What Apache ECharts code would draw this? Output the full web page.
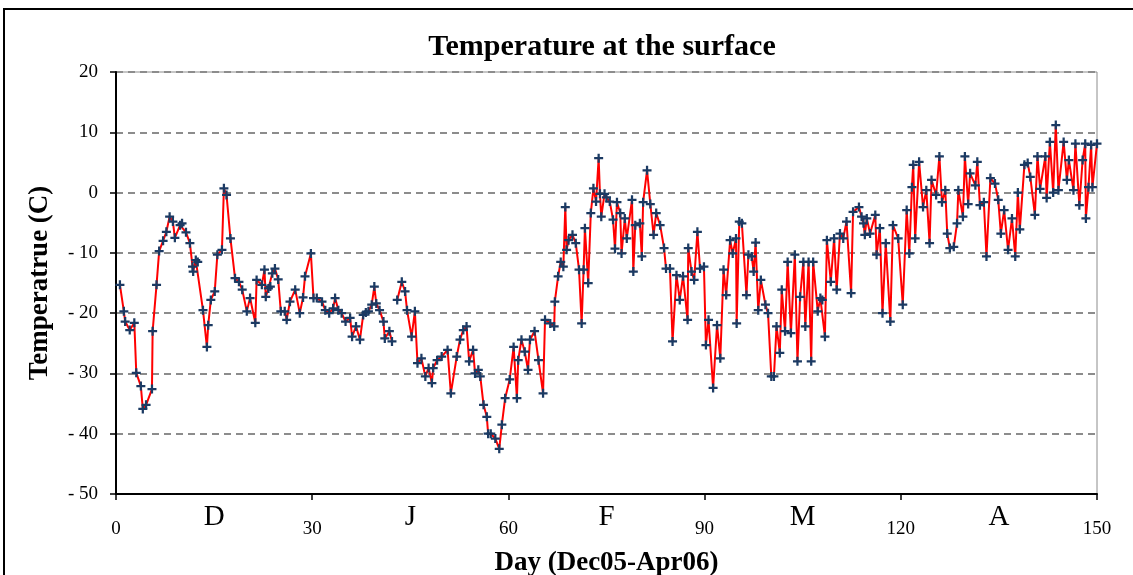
<!DOCTYPE html>
<html>
<head>
<meta charset="utf-8">
<script src="https://cdn.jsdelivr.net/npm/echarts@6/dist/echarts.min.js"></script>
<style>
html,body{margin:0;padding:0;background:#fff;}
#chart{width:1133px;height:575px;}
</style>
</head>
<body>
<div id="chart"></div>
<script>
// Readings: [day, temperature °C]
const decReadings = [[0.6,-15.3],[1.2,-19.7],[1.4,-21.4],[2.1,-22.8],[2.8,-21.6],[3.1,-29.9],[3.8,-32.1],[4.1,-35.9],[4.6,-35.2],[5.5,-32.6],[5.6,-23],[6.2,-15.3],[6.6,-9.7],[7.2,-8],[7.7,-6.5],[8.2,-4],[8.7,-4.8],[9.0,-7.5],[9.8,-5.4],[10.1,-5.1],[10.7,-6.6],[11.3,-8.4],[11.7,-12.3],[11.8,-13.1],[12.2,-11.2],[12.5,-11.5],[13.3,-19.5],[13.9,-25.6],[14.1,-22],[14.5,-17.8],[15.1,-16.4],[15.5,-10.3],[16.2,-9.5],[16.5,0.7],[16.9,-0.4],[17.5,-7.6],[18.2,-14.2],[18.8,-14.8],[19.3,-16.1],[20.0,-19.7],[20.5,-17.5],[21.3,-21.6],[21.5,-14.5],[22.3,-15.3],[22.7,-12.8],[22.9,-17.3],[23.3,-15.9],[23.6,-15.6],[23.9,-13.4],[24.3,-12.6],[24.8,-14.4],[25.2,-19.7],[25.8,-19.7],[26.1,-21.1],[26.6,-18.1],[27.4,-16.1],[28.1,-20],[28.6,-17.4],[28.9,-13.9],[29.8,-10.1]];
const janReadings = [[30.2,-17.5],[30.7,-17.5],[31.5,-18.1],[32.0,-19.5],[32.6,-20],[33.2,-19.2],[33.5,-17.5],[34.0,-19.5],[34.5,-20],[35.1,-21.4],[35.8,-20.8],[36.1,-23.9],[36.7,-22.2],[37.3,-24.4],[37.8,-20.3],[38.2,-19.9],[38.6,-19.7],[39.1,-18.6],[39.5,-15.6],[39.8,-18.4],[40.3,-19.5],[40.9,-21.4],[41.1,-24.2],[41.8,-23],[42.2,-24.7],[42.6,'-'],[43.0,-17.8],[43.7,-14.8],[44.2,-16.4],[44.5,-19.5],[45.2,-23.9],[45.7,-19.7],[46.1,-28.3],[46.7,-27.5],[47.3,-30.5],[47.8,-29.1],[48.3,-31.6],[48.5,-29.1],[49.1,-27.8],[49.8,-27.2],[50.7,-26.1],[51.2,-33.3],[52.1,-27.2],[52.6,-24.4],[53.1,-22.8],[53.6,-22.2],[54.0,-28],[54.6,-26.1],[54.9,-30],[55.4,-29.4],[55.7,-30.5],[56.2,-35.2],[56.7,-37.2],[56.9,-40],[57.3,-40],[58.0,-40.8],[58.6,-42.5],[59.0,-38.5],[59.5,-34.1]];
const febReadings = [[60.2,-31],[60.8,-25.6],[61.3,-34.1],[61.5,-27.8],[62.0,-24.4],[62.5,-26.4],[63.0,-29.4],[63.3,-24.4],[64.0,-23],[64.6,-27.8],[65.3,-33.3],[65.6,-21.1],[66.4,-21.7],[67.0,-22.2],[67.1,-18.1],[67.6,-13.9],[68.0,-11.5],[68.4,-12.3],[68.7,-2.4],[68.9,-9.5],[69.2,-7.9],[69.8,-7],[70.3,-8.4],[70.8,-12.8],[71.2,-21.7],[71.5,-12.8],[71.7,-5.9],[72.2,-15],[72.6,-3.4],[73.0,0.7],[73.4,-1.5],[73.8,5.7],[74.0,-0.2],[74.2,-4],[74.7,-0.2],[75.0,-0.8],[75.5,-1.5],[76.0,-4.5],[76.3,-9.3],[76.6,-1.6],[77.1,-3.4],[77.3,-10.1],[77.8,-4.3],[78.1,-7.6],[78.9,-1.2],[79.1,-13.1],[79.4,-5.4],[80.1,-5.1],[80.4,-10.6],[80.6,-1.6],[81.2,3.7],[81.7,-1.9],[82.2,-7],[82.6,-3.4],[83.2,-5.4],[83.8,-9.2],[84.1,-12.6],[84.7,-12.6],[85.1,-24.7],[85.7,-13.7],[86.2,-17.8],[86.7,-13.9],[87.4,-21.1],[87.5,-9.2],[88.0,-13.1],[88.4,-14.5],[88.9,-6.5],[89.3,-12.6],[89.9,-12.3]];
const marReadings = [[90.2,-25.3],[90.6,-21.1],[91.3,-32.4],[91.9,-22],[92.4,-27.5],[92.9,-12.8],[93.3,-17],[93.9,-7.9],[94.3,-10.1],[94.8,-7.6],[94.9,-21.7],[95.3,-4.8],[95.7,-5.1],[96.4,-17],[96.7,-10.3],[97.2,-10.6],[97.5,-13.1],[97.8,-8.3],[98.2,-19.5],[98.6,-14.5],[99.3,-18.6],[99.7,-20],[100.2,-30.5],[100.6,-30.5],[101.0,-22.2],[101.5,-26.6],[101.8,-16.1],[102.3,-23],[102.7,-11.5],[103.2,-23.3],[103.8,-10.3],[104.2,-28],[104.6,-17.3],[105.1,-11.5],[105.4,-22.2],[105.9,-11.5],[106.3,-28],[106.6,-11.5],[107.3,-19.7],[107.7,-17.5],[108.0,-17.8],[108.4,-23.9],[108.7,-7.9],[109.3,-14.8],[109.8,-7.6],[110.2,-16.1],[110.7,-6.8],[111.2,-7.6],[111.7,-4.8],[112.4,-16.7],[112.7,-3.2],[113.6,-2.4],[114.0,-4],[114.3,-5.1],[114.5,-7],[114.8,-4.3],[115.3,-6.8],[116.1,-3.7],[116.3,-10.3],[116.8,-5.9],[117.2,-20],[117.7,-8.4],[118.4,-21.4],[118.8,-5.4],[119.6,-7.6]];
const aprReadings = [[120.3,-18.6],[120.9,-2.9],[121.3,-10.1],[121.7,0.9],[121.9,4.6],[122.2,-7.6],[122.8,5.1],[123.4,-2.4],[123.9,0.4],[124.4,-8.4],[124.7,2.1],[125.4,-0.4],[125.9,6],[126.3,-1.6],[126.8,0.4],[127.1,-6.8],[127.5,-9.2],[128.1,-9],[128.6,-5.1],[128.8,0.4],[129.5,-4],[129.8,6],[130.3,-1.9],[130.6,3.2],[131.4,1.2],[131.7,5.1],[132.1,-2.1],[132.7,-1.6],[133.1,-10.6],[133.7,2.4],[134.4,1.5],[134.9,-1.2],[135.3,-6.8],[135.8,-2.9],[136.4,-9.5],[137.0,-4.3],[137.5,-10.6],[137.9,0],[138.2,-6.1],[138.9,4.6],[139.4,4.9],[139.8,2.6],[140.5,-3.7],[140.9,6],[141.3,0.6],[142.1,6],[142.3,-0.9],[142.8,8.4],[143.3,0],[143.7,11.2],[144.1,0.4],[144.9,8.4],[145.4,2.1],[145.7,5.4],[146.4,0.4],[146.7,8.1],[147.3,-2.1],[147.8,5.4],[148.2,8.1],[148.3,-4.3],[148.7,0.9],[149.1,7.9],[149.3,0.9],[150.0,8.1]];

const dayTicks = [0, 30, 60, 90, 120, 150];
const monthLabels = {15: 'D', 45: 'J', 75: 'F', 105: 'M', 135: 'A'};
const tempTicks = [20, 10, 0, -10, -20, -30, -40, -50];

const readings = decReadings.concat(janReadings, febReadings, marReadings, aprReadings);

const chart = echarts.init(document.getElementById('chart'), null, {renderer: 'canvas'});
const serif = '"Liberation Serif", "Times New Roman", serif';
const plusPath = 'path://M-1,-4 L1,-4 L1,-1 L4,-1 L4,1 L1,1 L1,4 L-1,4 L-1,1 L-4,1 L-4,-1 L-1,-1 Z';

chart.setOption({
  animation: false,
  backgroundColor: '#ffffff',
  title: {
    text: 'Temperature at the surface',
    left: 597, top: 27, textAlign: 'center',
    textStyle: {fontFamily: serif, fontWeight: 'bold', fontSize: 30, color: '#000'}
  },
  graphic: [{
    type: 'rect', silent: true, z: -1,
    shape: {x: 4, y: 9, width: 1300, height: 700},
    style: {fill: 'none', stroke: '#000', lineWidth: 2}
  }],
  grid: {
    left: 116, right: 36, top: 72, bottom: 81,
    outerBoundsMode: 'none', containLabel: false,
    show: true, borderColor: '#8c8c8c', borderWidth: 1, backgroundColor: '#fff'
  },
  xAxis: [{
    type: 'value', min: dayTicks[0], max: dayTicks[dayTicks.length - 1], interval: 30,
    name: 'Day (Dec05-Apr06)', nameLocation: 'middle', nameGap: 56,
    nameTextStyle: {fontFamily: serif, fontWeight: 'bold', fontSize: 27, color: '#000'},
    axisLine: {show: true, onZero: false, lineStyle: {color: '#000', width: 2}},
    axisTick: {show: true, length: 6, lineStyle: {color: '#000', width: 1.5}},
    axisLabel: {fontFamily: serif, fontSize: 19, color: '#000', margin: 26},
    splitLine: {show: false}
  }, {
    type: 'value', min: 0, max: 150, interval: 15, position: 'bottom',
    axisLine: {show: false}, axisTick: {show: false}, splitLine: {show: false},
    axisLabel: {
      fontFamily: serif, fontSize: 29, color: '#000', margin: 9,
      formatter: v => monthLabels[v] || ''
    }
  }],
  yAxis: {
    type: 'value', min: tempTicks[tempTicks.length - 1], max: tempTicks[0], interval: 10,
    name: 'Temperatrue (C)', nameLocation: 'middle', nameGap: 62,
    nameTextStyle: {fontFamily: serif, fontWeight: 'bold', fontSize: 27, color: '#000'},
    axisLine: {show: true, onZero: false, lineStyle: {color: '#000', width: 2}},
    axisTick: {show: true, length: 6, lineStyle: {color: '#000', width: 1.5}},
    axisLabel: {
      fontFamily: serif, fontSize: 19, color: '#000', margin: 18,
      formatter: v => v < 0 ? '- ' + (-v) : String(v)
    },
    splitLine: {show: true, lineStyle: {color: '#8c8c8c', width: 2, type: [7, 5]}}
  },
  series: [{
    type: 'line',
    xAxisIndex: 0,
    data: readings,
    connectNulls: false,
    symbol: plusPath,
    symbolSize: 9,
    showAllSymbol: true,
    itemStyle: {color: '#1b3a63'},
    lineStyle: {color: '#ff0000', width: 2},
    emphasis: {disabled: true}
  }]
});
</script>
</body>
</html>
